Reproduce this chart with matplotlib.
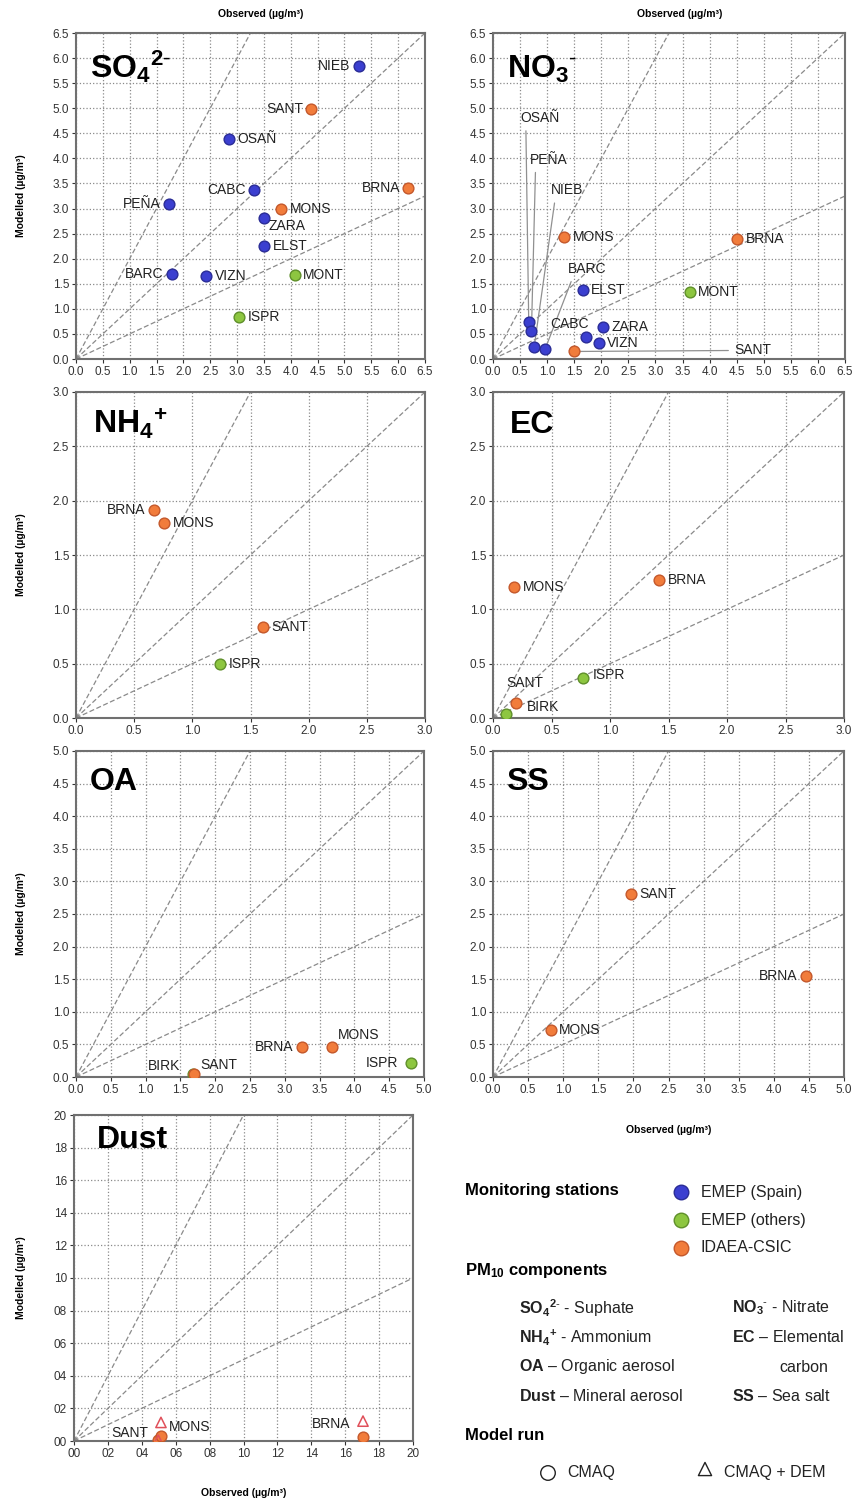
import matplotlib
matplotlib.use('Agg')
import matplotlib.pyplot as plt

plt.rcParams['font.family'] = ['Liberation Sans', 'DejaVu Sans']
plt.rcParams['mathtext.fontset'] = 'custom'
plt.rcParams['mathtext.rm'] = 'Liberation Sans'
plt.rcParams['mathtext.bf'] = 'Liberation Sans:bold'
plt.rcParams['mathtext.it'] = 'Liberation Sans:italic'

W, H = 865, 1499

# network colours: es = EMEP (Spain), ot = EMEP (others), id = IDAEA-CSIC
fill = {'es': '#3b3fd0', 'ot': '#8dc640', 'id': '#f17c3b'}
edge = {'es': '#2a2c96', 'ot': '#5f8f2a', 'id': '#c4582b'}

# ---- data ----
so4_sta = ['NIEB', 'OSAÑ', 'CABC', 'PEÑA', 'ZARA', 'ELST', 'BARC', 'VIZN', 'SANT', 'MONS', 'BRNA', 'MONT', 'ISPR']
so4_obs = [5.27, 2.85, 3.31, 1.73, 3.50, 3.51, 1.78, 2.43, 4.38, 3.82, 6.19, 4.07, 3.04]
so4_mod = [5.85, 4.39, 3.36, 3.10, 2.81, 2.26, 1.70, 1.66, 4.98, 2.99, 3.41, 1.68, 0.84]
so4_net = ['es', 'es', 'es', 'es', 'es', 'es', 'es', 'es', 'id', 'id', 'id', 'ot', 'ot']

no3_sta = ['OSAÑ', 'PEÑA', 'NIEB', 'BARC', 'CABC', 'ELST', 'ZARA', 'VIZN', 'MONS', 'BRNA', 'SANT', 'MONT']
no3_obs = [0.66, 0.71, 0.76, 0.96, 1.72, 1.66, 2.04, 1.95, 1.32, 4.51, 1.49, 3.63]
no3_mod = [0.73, 0.55, 0.24, 0.19, 0.44, 1.37, 0.64, 0.32, 2.43, 2.40, 0.15, 1.33]
no3_net = ['es', 'es', 'es', 'es', 'es', 'es', 'es', 'es', 'id', 'id', 'id', 'ot']

nh4_sta = ['BRNA', 'MONS', 'SANT', 'ISPR']
nh4_obs = [0.67, 0.76, 1.61, 1.24]
nh4_mod = [1.91, 1.79, 0.84, 0.50]
nh4_net = ['id', 'id', 'id', 'ot']

ec_sta = ['MONS', 'BRNA', 'ISPR', 'SANT', 'BIRK']
ec_obs = [0.18, 1.42, 0.77, 0.20, 0.11]
ec_mod = [1.21, 1.27, 0.37, 0.14, 0.04]
ec_net = ['id', 'id', 'ot', 'id', 'ot']

oa_sta = ['BIRK', 'SANT', 'BRNA', 'MONS', 'ISPR']
oa_obs = [1.68, 1.70, 3.24, 3.68, 4.81]
oa_mod = [0.04, 0.05, 0.46, 0.46, 0.21]
oa_net = ['ot', 'id', 'id', 'id', 'ot']

ss_sta = ['SANT', 'BRNA', 'MONS']
ss_obs = [1.96, 4.46, 0.82]
ss_mod = [2.80, 1.55, 0.72]
ss_net = ['id', 'id', 'id']

dust_sta = ['SANT', 'MONS', 'BRNA']
dust_obs = [4.97, 5.13, 17.05]
dust_cmaq = [0.06, 0.30, 0.26]
dust_dem = [0.05, 1.14, 1.22]

# ---- label placement (offset in points, alignment) ----
R = (6, 0, 'left')
L = (-6, 0, 'right')
so4_lab = [L, R, L, L, (3, -6, 'left'), R, L, R, L, R, L, R, R]
no3_lab = [('lead', 0.86, 4.80), ('lead', 1.03, 3.97), ('lead', 1.36, 3.36), ('lead', 1.73, 1.79),
           (-12, 9, 'center'), R, R, R, R, R, ('lead', 4.79, 0.17), R]
nh4_lab = [L, R, R, R]
ec_lab = [R, R, (7, 2, 'left'), (6, 14, 'center'), (15, 5, 'left')]
oa_lab = [(-9, 6, 'right'), (4, 6, 'left'), L, (4, 9, 'left'), (-9, 0, 'right')]
ss_lab = [R, L, R]
dust_lab = [(-7, 5, 'right'), (6, -3, 'left'), (-9, -2, 'right')]

fig = plt.figure(figsize=(W / 100, H / 100), dpi=100)


def make_ax(x0, y0, x1, y1):
    return fig.add_axes([x0 / W, 1 - y1 / H, (x1 - x0) / W, (y1 - y0) / H])


def style_ax(ax, lim, step, ticklabels=None):
    n = int(round(lim / step))
    ticks = [i * step for i in range(n + 1)]
    ax.set_xlim(0, lim)
    ax.set_ylim(0, lim)
    ax.set_xticks(ticks)
    ax.set_yticks(ticks)
    if ticklabels is None:
        ticklabels = ['%.1f' % t for t in ticks]
    ax.set_xticklabels(ticklabels)
    ax.set_yticklabels(ticklabels)
    ax.tick_params(labelsize=8.5, colors='#333333', length=3, width=0.8, pad=2)
    ax.grid(True, linestyle=':', color='#8a8a8a', lw=0.9)
    ax.set_axisbelow(True)
    for s in ax.spines.values():
        s.set_color('#707070')
        s.set_linewidth(1.5)
    for k in [2, 1, 0.5]:
        ax.plot([0, lim], [0, k * lim], linestyle=(0, (4, 2)), color='#8a8a8a', lw=0.9, zorder=1)


def draw_points(ax, sta, obs, mod, net, lab):
    for name, x, y, n, lb in zip(sta, obs, mod, net, lab):
        ax.scatter(x, y, s=60, color=fill[n], edgecolor=edge[n], linewidth=1, zorder=3)
        if lb[0] == 'lead':
            ax.annotate(name, xy=(x, y), xytext=(lb[1], lb[2]), fontsize=10, color='#222222',
                        ha='center', va='center',
                        arrowprops=dict(arrowstyle='-', color='#909090', lw=0.9,
                                        relpos=(0.0, 0.5) if lb[1] > 3 else (0.15, 0.0),
                                        shrinkA=2, shrinkB=4),
                        zorder=2)
        else:
            ax.annotate(name, xy=(x, y), xytext=(lb[0], lb[1]), textcoords='offset points',
                        fontsize=10, color='#222222', ha=lb[2], va='center', zorder=4)


def title(ax, txt, x, y):
    ax.text(x, y, txt, transform=ax.transAxes, fontsize=23, fontweight='bold',
            va='baseline', ha='left', zorder=5)


obs_label = 'Observed (µg/m³)'
mod_label = 'Modelled (µg/m³)'

so4_tex = r'$\mathbf{SO_4{}^{2\text{-}}}$'
no3_tex = r'$\mathbf{NO_3{}^{\text{-}}}$'
nh4_tex = r'$\mathbf{NH_4{}^{+}}$'

ax1 = make_ax(76, 33, 425, 359)
style_ax(ax1, 6.5, 0.5)
draw_points(ax1, so4_sta, so4_obs, so4_mod, so4_net, so4_lab)
title(ax1, so4_tex, 0.04, 0.862)

ax2 = make_ax(493, 33, 845, 359)
style_ax(ax2, 6.5, 0.5)
draw_points(ax2, no3_sta, no3_obs, no3_mod, no3_net, no3_lab)
title(ax2, no3_tex, 0.04, 0.862)

for ax in [ax1, ax2]:
    ax.text(0.53, 1 + 19 / 326, obs_label, transform=ax.transAxes, fontsize=7.5,
            fontweight='bold', ha='center', va='center')

ax3 = make_ax(76, 392, 425, 718)
style_ax(ax3, 3.0, 0.5)
draw_points(ax3, nh4_sta, nh4_obs, nh4_mod, nh4_net, nh4_lab)
title(ax3, nh4_tex, 0.05, 0.874)

ax4 = make_ax(493, 392, 844, 718)
style_ax(ax4, 3.0, 0.5)
draw_points(ax4, ec_sta, ec_obs, ec_mod, ec_net, ec_lab)
title(ax4, 'EC', 0.048, 0.874)

ax5 = make_ax(76, 751, 424, 1077)
style_ax(ax5, 5.0, 0.5)
draw_points(ax5, oa_sta, oa_obs, oa_mod, oa_net, oa_lab)
title(ax5, 'OA', 0.04, 0.88)

ax6 = make_ax(493, 751, 844, 1077)
style_ax(ax6, 5.0, 0.5)
draw_points(ax6, ss_sta, ss_obs, ss_mod, ss_net, ss_lab)
title(ax6, 'SS', 0.037, 0.88)
ax6.text(0.5, -0.163, obs_label, transform=ax6.transAxes, fontsize=7.5,
         fontweight='bold', ha='center', va='center')

ax7 = make_ax(74, 1115, 413, 1441)
dust_ticks = ['%02d' % v for v in range(0, 21, 2)]
style_ax(ax7, 20, 2, dust_ticks)
ax7.scatter(dust_obs, dust_cmaq, s=60, color=fill['id'], edgecolor=edge['id'], linewidth=1, zorder=3)
ax7.scatter(dust_obs, dust_dem, s=55, marker='^', facecolor='none', edgecolor='#e0505a', linewidth=1.1, zorder=4)
for name, x, yc, yd, lb in zip(dust_sta, dust_obs, dust_cmaq, dust_dem, dust_lab):
    y = yc if name == 'SANT' else yd
    ax7.annotate(name, xy=(x, y), xytext=(lb[0], lb[1]), textcoords='offset points',
                 fontsize=10, color='#222222', ha=lb[2], va='center', zorder=5)
title(ax7, 'Dust', 0.068, 0.90)
ax7.text(0.5, -0.16, obs_label, transform=ax7.transAxes, fontsize=7.5,
         fontweight='bold', ha='center', va='center')

for ax in [ax1, ax3, ax5, ax7]:
    pos = ax.get_position()
    fig.text(21 / W, (pos.y0 + pos.y1) / 2, mod_label, rotation=90, fontsize=7.5,
             fontweight='bold', ha='center', va='center')

# ---- legend block, in pixel coordinates ----
lg = fig.add_axes([0, 0, 1, 1], facecolor='none')
lg.set_xlim(0, W)
lg.set_ylim(H, 0)
lg.axis('off')

fs = 11.5
lg.text(465, 1191, 'Monitoring stations', fontsize=fs + 0.5, fontweight='bold', va='center')
for yy, key, txt in [(1192, 'es', 'EMEP (Spain)'), (1220, 'ot', 'EMEP (others)'), (1248, 'id', 'IDAEA-CSIC')]:
    lg.scatter(681, yy, s=110, color=fill[key], edgecolor=edge[key], linewidth=1)
    lg.text(701, yy, txt, fontsize=fs, va='center', color='#222222')

lg.text(465, 1271, r'$\mathbf{PM_{10}}$ components', fontsize=fs + 0.5, fontweight='bold', va='center')
rows = [(519, 1308, r'$\mathbf{SO_4{}^{2\text{-}}}$ - Suphate'),
        (732, 1308, r'$\mathbf{NO_3{}^{\text{-}}}$ - Nitrate'),
        (519, 1337, r'$\mathbf{NH_4{}^{+}}$ - Ammonium'),
        (732, 1337, r'$\mathbf{EC}$ – Elemental'),
        (519, 1367, r'$\mathbf{OA}$ – Organic aerosol'),
        (779, 1367, 'carbon'),
        (519, 1396, r'$\mathbf{Dust}$ – Mineral aerosol'),
        (732, 1396, r'$\mathbf{SS}$ – Sea salt')]
for x, y, t in rows:
    lg.text(x, y, t, fontsize=fs, va='center', color='#222222')

lg.text(465, 1435, 'Model run', fontsize=fs + 0.5, fontweight='bold', va='center')
lg.scatter(548, 1473, s=110, marker='o', facecolor='none', edgecolor='#222222', linewidth=1)
lg.text(567, 1473, 'CMAQ', fontsize=fs, va='center', color='#222222')
lg.scatter(705, 1469, s=90, marker='^', facecolor='none', edgecolor='#222222', linewidth=1)
lg.text(724, 1473, 'CMAQ + DEM', fontsize=fs, va='center', color='#222222')

fig.savefig('out.png', dpi=100)
